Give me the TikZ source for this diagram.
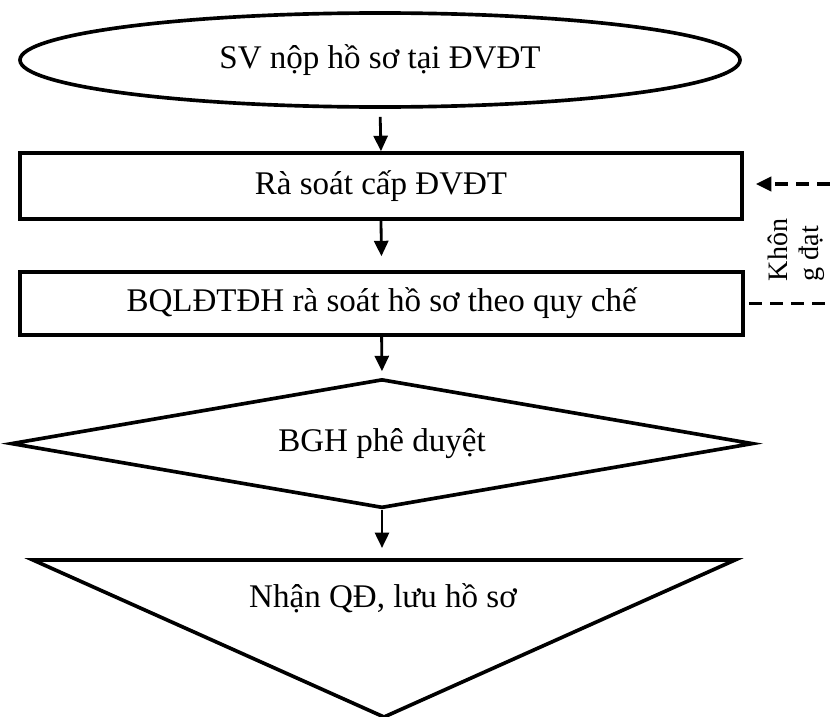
\documentclass[tikz,border=0pt]{standalone}
\usepackage{fontspec}
\setmainfont{Liberation Serif}
\usetikzlibrary{shapes.geometric,arrows.meta}

\begin{document}
\begin{tikzpicture}[
    box/.style={draw, rectangle, line width=2.6pt, minimum width=18.05cm, inner sep=0pt},
    flow/.style={line width=2pt, -{Triangle[length=11pt,width=10pt]}},
    back/.style={line width=2.4pt, dash pattern=on 9pt off 6pt},
    every node/.style={font=\fontsize{23.5}{27}\selectfont}
  ]
    \useasboundingbox (0,0) rectangle (20.75,-17.925);

    % Steps of the procedure
    \node[draw, ellipse, line width=2.6pt, minimum width=18cm, minimum height=2.35cm] (nop) at (9.5,-1.5) {SV nộp hồ sơ tại ĐVĐT};
    \node[box, minimum height=1.65cm] (donvi) at (9.525,-4.65) {Rà soát cấp ĐVĐT};
    \node[box, minimum width=18.075cm, minimum height=1.575cm] (quyche) at (9.54,-7.59) {BQLĐTĐH rà soát hồ sơ theo quy chế};
    \node[draw, diamond, line width=2.6pt, aspect=5.75, inner sep=0pt, minimum width=18.55cm, minimum height=3.225cm] (duyet) at (9.55,-11.09) {BGH phê duyệt};

    % Last step: triangle pointing down
    \draw[line width=2.6pt, line join=miter] (0.825,-14) -- (18.375,-14) -- (9.6,-17.925) -- cycle;
    \coordinate (luutop) at (9.55,-14);
    \node (luu) at (9.575,-14.95) {Nhận QĐ, lưu hồ sơ};

    % Main flow
    \draw[flow, shorten <=0.2cm] (nop.south) -- (donvi.north);
    \draw[flow, shorten >=0.35cm] (donvi.south) -- (quyche.north);
    \draw[flow, shorten >=0.15cm] (quyche.south) -- (duyet.north);
    \draw[flow, shorten >=0.3cm] (duyet.south) -- (luutop);

    % Return when not accepted
    \coordinate (backin) at (20.75,-4.6);
    \coordinate (backout) at (20.75,-7.59);
    \draw[back, -{Triangle[length=11pt,width=10pt]}, shorten >=0.3cm] (backin) -- (backin -| donvi.east);
    \draw[back, shorten <=0.1cm] (quyche.east) -- (backout);
    \node[rotate=90, align=left, font=\fontsize{20}{22}\selectfont] (khongdat) at (19.9,-6.25) {Khôn\\g đạt};
\end{tikzpicture}
\end{document}
